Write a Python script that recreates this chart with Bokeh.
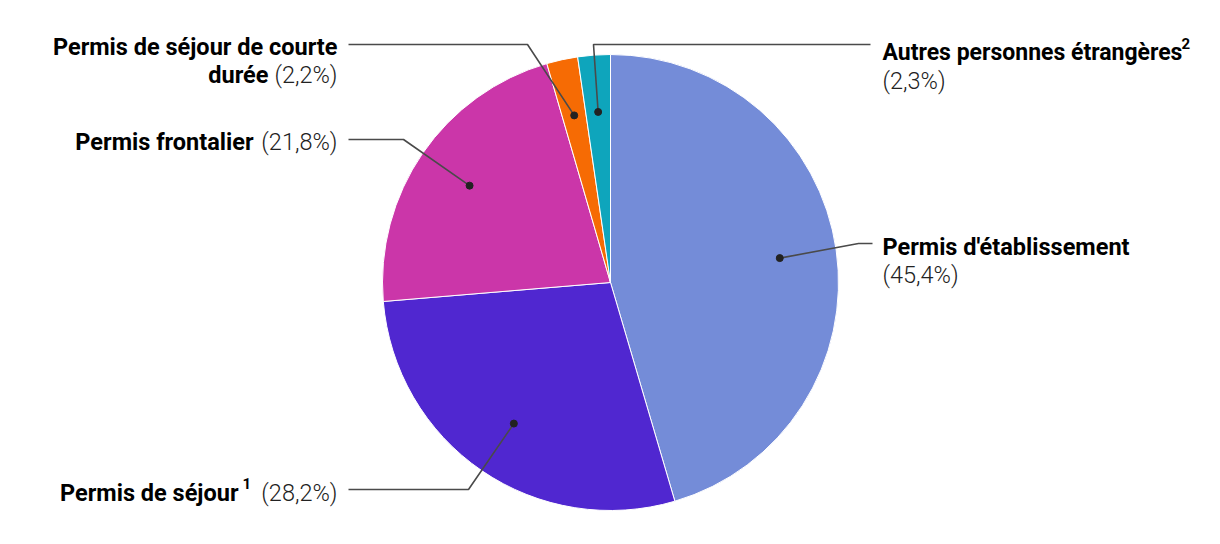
import math
from bokeh.plotting import figure
from bokeh.models import ColumnDataSource
from bokeh.core.properties import value
from bokeh.embed import file_html
from bokeh.resources import INLINE

# ---- data ----
categories = ["Permis d'établissement", "Permis de séjour", "Permis frontalier",
              "Permis de séjour de courte durée", "Autres personnes étrangères"]
shares = [45.4, 28.2, 21.8, 2.2, 2.3]
share_labels = ["(45,4%)", "(28,2%)", "(21,8%)", "(2,2%)", "(2,3%)"]
colors = ["#748CD8", "#5027D0", "#CB36A9", "#F66B04", "#0EA5BC"]

W, H = 1204, 528
def X(px):
    return px
def Y(py):
    return H - py

p = figure(width=W, height=H, x_range=(0, W), y_range=(0, H),
           output_backend="svg", toolbar_location=None, min_border=0)
p.axis.visible = False
p.grid.visible = False
p.outline_line_color = None
p.background_fill_color = "white"
p.border_fill_color = "white"

cx, cy, R = X(610), Y(282), 228
total = sum(shares)
starts, ends, mids = [], [], []
acc = 0.0
for s in shares:
    t0 = acc / total * 2 * math.pi
    acc += s
    t1 = acc / total * 2 * math.pi
    starts.append(math.pi / 2 - t1)
    ends.append(math.pi / 2 - t0)
    mids.append((t0 + t1) / 2)

src = ColumnDataSource(dict(start=starts, end=ends, color=colors, cat=categories))
p.wedge(x=cx, y=cy, radius=R, start_angle="start", end_angle="end",
        direction="anticlock", fill_color="color", line_color="white",
        line_width=1, source=src)

# anchor dots at 0.75 R
dots = [(cx + 0.75 * R * math.sin(m), cy + 0.75 * R * math.cos(m)) for m in mids]

# leader elbows and ends (layout, in pixel coords)
elbows = [[(858, 243), (872, 243)],
          [(468, 489), (348, 489)],
          [(403, 139), (348, 139)],
          [(527, 44), (348, 44)],
          [(593, 44), (870, 44)]]
xs, ys = [], []
for (dx, dy), pts in zip(dots, elbows):
    xs.append([dx] + [X(a) for a, b in pts])
    ys.append([dy] + [Y(b) for a, b in pts])
p.multi_line(xs=xs, ys=ys, line_color="#4a4a4a", line_width=1.6)
p.scatter(x=[d[0] for d in dots], y=[d[1] for d in dots], size=7,
          fill_color="#222222", line_color="#222222")

FONT = value("Roboto")
LIGHT = value("Roboto Light")

def txt(px, py, s, bold=True, align="left", size="23.5px"):
    p.text(x=[X(px)], y=[Y(py)], text=[s], text_font=FONT if bold else LIGHT,
           text_font_style="bold" if bold else "normal",
           text_font_size=size if bold else "23.5px",
           text_align=align, text_baseline="middle",
           text_color="#000000" if bold else "#222222")

# Permis d'établissement
txt(882, 246, categories[0])
txt(882, 274, share_labels[0], bold=False)
# Permis de séjour (1)
txt(238, 492, "Permis de séjour", align="right")
txt(242, 483, "1", size="15px")
txt(337, 492, share_labels[1], bold=False, align="right")
# Permis frontalier
txt(253, 141, "Permis frontalier", align="right")
txt(337, 141, share_labels[2], bold=False, align="right")
# courte durée
txt(337, 46, "Permis de séjour de courte", align="right")
txt(268, 74, "durée", align="right")
txt(337, 74, share_labels[3], bold=False, align="right")
# Autres
txt(882, 52, "Autres personnes étrangères", size="23px")
txt(1181, 43, "2", size="15px")
txt(882, 80, share_labels[4], bold=False)

open("out.html", "w").write(file_html(p, INLINE))
